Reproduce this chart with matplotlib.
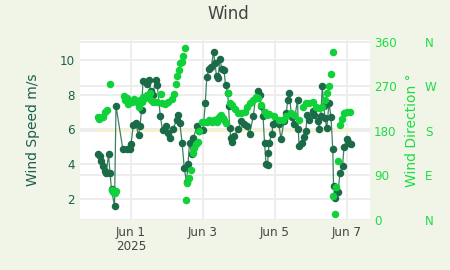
import matplotlib
matplotlib.use("Agg")
import matplotlib.pyplot as plt
import matplotlib.transforms as mtransforms
import pandas as pd

# ---- data (hours after 2025-05-31 00:00) ----
speed_hours = [2.0, 3.0, 4.0, 5.0, 6.5, 7.5, 9.0, 10.0, 11.0, 13.0, 14.0, 18.5, 21.5, 23.0, 24.0,
               25.5, 27.0, 29.0, 30.0, 31.0, 32.0, 34.5, 36.0, 37.0, 38.5, 40.5, 41.5, 43.5, 45.0,
               47.0, 48.5, 50.0, 52.0, 54.5, 55.5, 56.5, 58.0, 59.5, 61.0, 62.0, 63.0, 64.5, 65.5,
               68.0, 69.5, 72.0, 73.5, 74.5, 76.0, 77.5, 79.0, 80.0, 81.0, 82.0, 83.3, 84.5, 86.0,
               87.0, 88.5, 89.0, 89.8, 90.5, 91.5, 92.5, 95.5, 97.5, 99.5, 101.0, 103.0, 105.5,
               107.0, 108.5, 110.0, 110.5, 112.0, 113.0, 114.0, 115.0, 115.5, 116.0, 118.0, 118.5,
               120.0, 122.5, 124.0, 126.0, 127.5, 128.5, 129.5, 131.0, 132.5, 135.0, 135.5, 136.0,
               138.0, 139.5, 140.5, 141.5, 142.5, 145.0, 146.0, 148.5, 149.5, 150.5, 151.5, 152.5,
               153.3, 154.5, 156.0, 157.3, 158.5, 159.0, 160.0, 161.0, 162.0, 163.3, 165.0, 166.0,
               167.8, 169.0, 170.5]
speed_values = [4.57, 4.45, 4.2, 3.9, 3.6, 3.5, 4.57, 3.5, 2.55, 1.6, 7.35, 4.9, 4.85, 4.85, 5.14,
                6.25, 6.4, 5.66, 6.2, 7.1, 8.8, 8.6, 8.85, 8.2, 8.0, 8.85, 8.55, 6.8, 5.95,
                6.2, 5.8, 5.5, 6.05, 6.55, 6.85, 6.4, 5.25, 3.8, 2.95, 4.0, 5.25, 4.6, 5.5,
                6.2, 5.9, 5.95, 7.5, 9.0, 9.5, 9.6, 10.45, 9.8, 9.05, 8.95, 10.05, 9.5, 9.4,
                8.55, 8.1, 7.35, 6.1, 5.5, 5.3, 5.6, 6.0, 6.5, 6.3, 6.2, 5.75, 6.75,
                7.8, 8.2, 8.0, 7.35, 6.75, 5.25, 4.0, 3.95, 4.65, 5.25, 5.75, 6.3,
                6.35, 6.3, 5.45, 6.5, 6.95, 7.7, 8.1, 6.7, 6.3, 7.7, 6.05, 5.05,
                5.25, 5.55, 5.9, 6.85, 6.55, 7.05, 6.85, 6.5, 6.05, 6.75, 8.5, 7.35,
                6.65, 6.1, 7.55, 6.7, 4.85, 2.75, 2.05, 2.4, 2.4, 3.5, 3.9, 5.0,
                5.45, 5.2, 5.15]

dir_hours = [2.0, 2.9, 4.7, 5.5, 6.9, 8.0, 10.0, 11.1, 11.8, 13.1, 14.0, 19.0, 20.2, 21.1, 22.0,
             24.5, 26.0, 27.8, 29.1, 30.0, 31.3, 32.2, 33.1, 34.5, 35.3, 36.7, 37.5, 38.9, 41.1,
             43.8, 44.5, 46.7, 48.9, 51.1, 52.7, 53.8, 54.9, 55.8, 56.7, 57.8, 58.5, 59.8, 60.7,
             61.5, 62.7, 63.8, 65.1, 66.0, 67.3, 68.9, 69.5, 71.1, 72.7, 74.5, 76.0, 77.8, 79.3,
             81.1, 82.0, 83.3, 84.2, 85.5, 86.0, 87.5, 88.7, 89.7, 91.3, 93.1, 95.3, 97.5, 99.8,
             101.5, 103.1, 105.3, 107.5, 108.7, 110.9, 113.1, 114.9, 116.2, 119.5, 122.9, 125.1,
             127.3, 130.7, 132.9, 136.2, 138.5, 140.7, 142.9, 145.1, 147.3, 149.1, 151.1, 153.3,
             154.5, 156.2, 157.1, 158.5, 158.9, 160.0, 160.7, 162.2, 163.3, 164.5, 166.0, 167.8,
             170.0]
dir_values = [209, 204, 209, 209, 219, 222, 276, 61, 57, 54, 59, 251, 243, 246, 235,
              239, 245, 239, 229, 243, 239, 249, 246, 253, 253, 256, 243, 239, 238,
              254, 236, 234, 239, 245, 254, 276, 292, 303, 317, 320, 332, 348, 40,
              74, 84, 101, 135, 145, 153, 158, 179, 199, 199, 199, 202, 199, 202,
              199, 206, 211, 212, 207, 202, 196, 256, 237, 233, 224, 217, 216, 219,
              229, 236, 243, 249, 246, 233, 219, 212, 214, 210, 202, 202,
              210, 217, 212, 202, 229, 236, 236, 239, 229, 226, 229, 243,
              256, 270, 295, 340, 49, 12, 67, 119, 192, 204, 216, 219,
              219]

speed_ticks = [2, 4, 6, 8, 10]
dir_ticks = [0, 90, 180, 270, 360]
compass_labels = ["N", "E", "S", "W", "N"]
xtick_dates = ["2025-06-01", "2025-06-03", "2025-06-05", "2025-06-07"]
xtick_labels = ["Jun 1\n2025", "Jun 3", "Jun 5", "Jun 7"]
ref_direction = 180

base = pd.Timestamp("2025-05-31")
speed_t = [base + pd.Timedelta(hours=h) for h in speed_hours]
dir_t = [base + pd.Timedelta(hours=h) for h in dir_hours]

# ---- styles ----
BG = "#f0f5e7"
SPEED_C = "#1b6b48"
SPEED_TXT = "#1d5e4c"
DIR_C = "#0fd13a"
DIR_TXT = "#1fdc45"
GRID = "#ececec"

plt.rcParams["font.family"] = ["DejaVu Sans"]
fig = plt.figure(figsize=(4.5, 2.7), dpi=100, facecolor=BG)
ax = fig.add_axes([80/450, 1-220/270, 290/450, 180/270])
ax.set_facecolor("white")
ax2 = ax.twinx()
ax3 = ax.twinx()

ax.set_xlim(base + pd.Timedelta(hours=-10), base + pd.Timedelta(hours=183.3))
ax.set_ylim(0.79, 11.15)
ax2.set_ylim(0, 364)
ax3.set_ylim(0, 364)

for a in (ax, ax2, ax3):
    for s in a.spines.values():
        s.set_visible(False)

# grid lines (all under data)
ax.set_axisbelow(True)
ax.grid(True, axis="both", color=GRID, lw=1.3, zorder=0)
bt = mtransforms.blended_transform_factory(ax.transAxes, ax2.transData)
for d in dir_ticks:
    ax.plot([0, 1], [d, d], transform=bt, color=GRID, lw=1.3, zorder=0.5)
# reference line at 180 deg across data range
xt = mtransforms.blended_transform_factory(ax.transData, ax2.transData)
ax.plot([speed_t[0], speed_t[-1]], [ref_direction, ref_direction], transform=xt,
        color="#f8f3c6", lw=1.6, zorder=0.8)

ax.plot(speed_t, speed_values, color=SPEED_C, lw=0.9, alpha=0.85, zorder=2)
ax.plot(speed_t, speed_values, ls="none", marker="o", ms=4.4, color=SPEED_C, zorder=3)
ax2.plot(dir_t, dir_values, ls="none", marker="o", ms=4.4, color=DIR_C, zorder=3)

ax.set_xticks(pd.to_datetime(xtick_dates))
ax.set_xticklabels(xtick_labels, fontsize=8.6, color="#444444", linespacing=1.15)
ax.tick_params(axis="x", length=0, pad=4)

ax.set_yticks(speed_ticks)
ax.set_yticklabels([str(v) for v in speed_ticks], fontsize=8.6, color=SPEED_TXT)
ax.tick_params(axis="y", length=0, pad=4)
ax.set_ylabel("Wind Speed m/s", fontsize=10, color=SPEED_TXT, labelpad=14)

ax2.set_yticks(dir_ticks)
ax2.set_yticklabels([str(v) for v in dir_ticks], fontsize=8.6, color=DIR_TXT)
ax2.tick_params(axis="y", length=0, pad=3)
ax2.set_ylabel("Wind Direction °", fontsize=10, color=DIR_TXT, labelpad=6)

ax3.spines["right"].set_position(("axes", 1.19))
ax3.set_yticks(dir_ticks)
ax3.set_yticklabels(compass_labels, fontsize=8.6, color=DIR_TXT)
ax3.tick_params(axis="y", length=0, pad=0)

fig.text(228/450, 1-14/270, "Wind", ha="center", va="center", fontsize=12, color="#444444")

fig.savefig("out.png", dpi=100, facecolor=BG)
